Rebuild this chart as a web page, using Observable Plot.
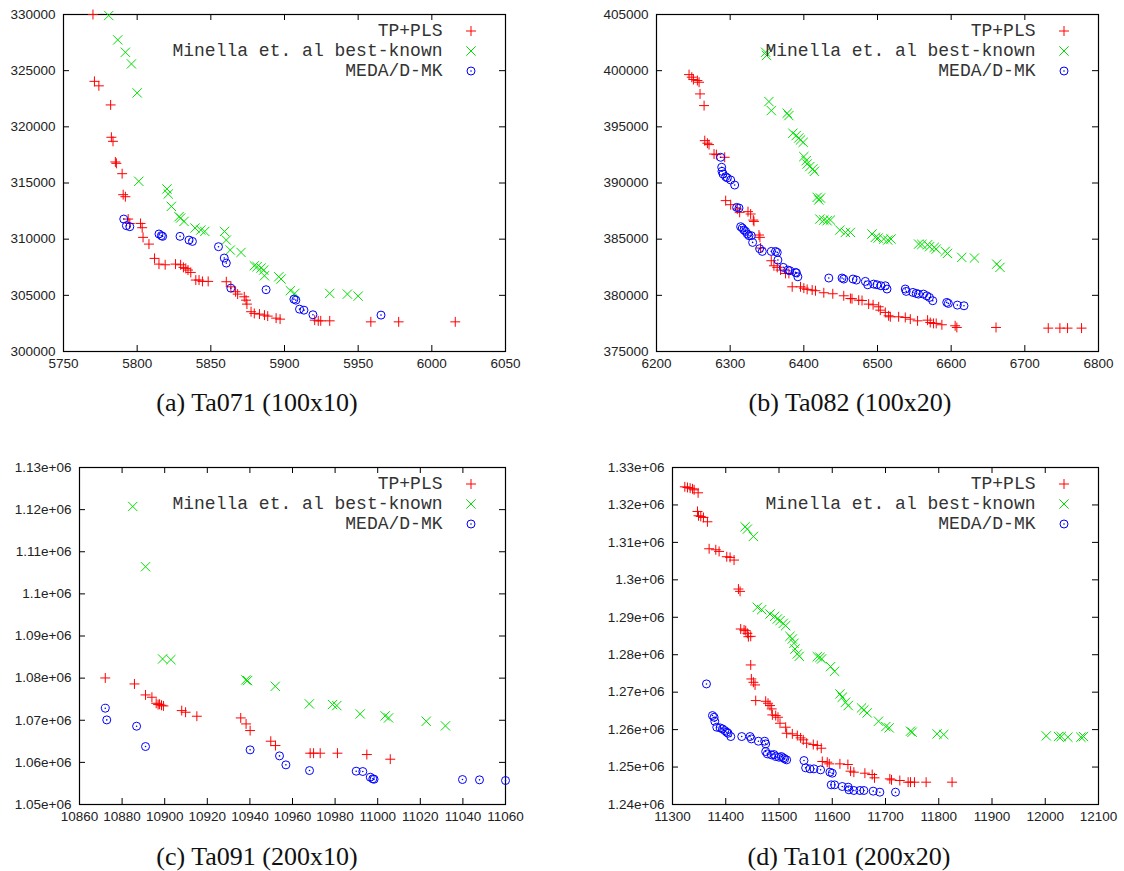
<!DOCTYPE html>
<html>
<head>
<meta charset="utf-8">
<script src="https://cdn.jsdelivr.net/npm/d3@7"></script>
<script src="https://cdn.jsdelivr.net/npm/@observablehq/plot@0.6"></script>
<style>
  html, body { margin: 0; padding: 0; background: #fff; }
  #fig { position: relative; width: 1124px; height: 871px; background: #fff; overflow: hidden; }
  .panel { position: absolute; }
  .caption { position: absolute; width: 400px; text-align: center; font-family: "Liberation Serif", "Times New Roman", serif; font-size: 26px; line-height: 30px; color: #111; }
</style>
</head>
<body>
<div id="fig"></div>
<script>
// ---------- series names ----------
const seriesNames = ["TP+PLS", "Minella et. al best-known", "MEDA/D-MK"];
const captions = ["(a) Ta071 (100x10)", "(b) Ta082 (100x20)", "(c) Ta091 (200x10)", "(d) Ta101 (200x20)"];

// ---------- (a) Ta071 ----------
const ta071_xTicks = [5750, 5800, 5850, 5900, 5950, 6000, 6050];
const ta071_yTicks = [300000, 305000, 310000, 315000, 320000, 325000, 330000];
const ta071_tpPls = [[5770,330000],[5771,324050],[5774,323650],[5782,321950],[5782.5,319070],[5783.6,318710],[5785.2,316870],[5785.9,316750],[5789.8,315830],[5790.5,313960],[5792,313780],[5793.9,311790],[5795,311400],[5802.3,311400],[5803.4,311020],[5804,310160],[5808,309560],[5811.8,308290],[5814.8,307780],[5819,307720],[5826,307780],[5829.5,307720],[5831.4,307490],[5833,307400],[5834.5,307250],[5836.4,307040],[5839.8,306360],[5842,306360],[5844.3,306240],[5848.2,306240],[5860.5,306210],[5863.6,305760],[5866.8,305320],[5868.2,305110],[5872.7,304870],[5873.9,304570],[5874.5,304220],[5877.3,303540],[5879.5,303390],[5883,303330],[5886.4,303240],[5888.6,303150],[5894.3,302970],[5897,302880],[5920.5,302790],[5922.9,302730],[5924.6,302730],[5930.7,302730],[5958.6,302640],[5977.5,302640],[6015.9,302640]];
const ta071_minella = [[5780.7,329910],[5786.8,327740],[5792,326640],[5796.1,325600],[5800,323020],[5801.1,315150],[5820.2,314470],[5821.1,314020],[5823.2,312920],[5828.4,312000],[5829.5,311880],[5831.8,311580],[5839.3,310990],[5843.2,310810],[5845.9,310690],[5859.3,310690],[5860.5,309920],[5863.2,309030],[5870.5,308820],[5879.5,307630],[5881.4,307550],[5884.1,307430],[5885.9,307250],[5886.4,306740],[5896.1,306650],[5897.7,306450],[5904,305410],[5907,305170],[5930.7,305170],[5942.7,305110],[5950,304930]];
const ta071_meda = [[5790.9,311790],[5792.7,311200],[5795,311110],[5814.8,310460],[5816.4,310310],[5817.3,310250],[5829.1,310250],[5835.2,309920],[5837.5,309800],[5855.2,309330],[5859.1,308320],[5860.5,307870],[5863.6,305640],[5887.5,305500],[5906.4,304660],[5907.7,304570],[5910.2,303770],[5913.2,303680],[5919.3,303270],[5965.5,303240]];

// ---------- (b) Ta082 ----------
const ta082_xTicks = [6200, 6300, 6400, 6500, 6600, 6700, 6800];
const ta082_yTicks = [375000, 380000, 385000, 390000, 395000, 400000, 405000];
const ta082_tpPls = [[6244.2,399650],[6247.9,399420],[6250.1,399210],[6255.5,399120],[6257.8,398970],[6259.1,397930],[6264.6,396890],[6265.5,393770],[6269.1,393540],[6271.3,393420],[6278.1,392580],[6281.3,392530],[6292.6,392290],[6293.9,388430],[6300.7,388070],[6309.7,387680],[6312.9,387390],[6324.2,387450],[6327.8,387240],[6331.4,386700],[6332.3,386580],[6339.1,385370],[6340.4,385160],[6341.3,384210],[6355.8,383080],[6359.4,382630],[6363.9,382490],[6368.4,382250],[6375.2,381950],[6379.7,381950],[6384.2,380760],[6395.5,380760],[6400,380640],[6404.5,380530],[6411.3,380470],[6415.8,380410],[6427.1,380230],[6439.3,380140],[6454.2,379960],[6463.2,379720],[6465.4,379700],[6474.5,379570],[6479,379540],[6488,379220],[6494,379160],[6501.6,378980],[6503.8,378680],[6510.6,378480],[6515.1,378180],[6517.4,378090],[6528.7,378090],[6537.7,378030],[6544.5,377880],[6554.4,377730],[6568,377790],[6571.6,377580],[6576.1,377500],[6579.7,377500],[6587.4,377380],[6605.4,377290],[6607.7,377140],[6660.9,377140],[6731.8,377080],[6747.6,377080],[6758,377080],[6777,377080]];
const ta082_minella = [[6348.1,401640],[6349.4,401350],[6352.6,397250],[6355.8,396450],[6377.4,396210],[6379.7,396000],[6385.1,394430],[6389.6,394220],[6393.2,394010],[6395.5,393830],[6399.1,393620],[6400,392350],[6403.2,391990],[6404.5,391690],[6408.1,391460],[6412.2,391250],[6414.4,391040],[6418.1,388720],[6420.3,388490],[6422.6,388660],[6421.7,386790],[6427.1,386700],[6431.6,386640],[6436.1,386700],[6448.8,385810],[6456.4,385600],[6463.2,385600],[6492.6,385460],[6497.1,385160],[6500.8,385100],[6508.4,385010],[6513.9,384920],[6518.3,385010],[6555.8,384560],[6560.3,384530],[6568,384500],[6570.7,384330],[6577,384270],[6579.7,384120],[6591.9,383910],[6595,383730],[6614.4,383380],[6631.6,383320],[6661.8,382780],[6666.3,382490]];
const ta082_meda = [[6287.1,392290],[6288.5,391400],[6288.9,391040],[6290.3,390800],[6293.9,390560],[6296.2,390450],[6300.7,390270],[6306.1,389820],[6308.8,387830],[6312,387770],[6314.2,386110],[6316.5,385990],[6318.7,385810],[6321,385690],[6323.3,385460],[6325.5,385310],[6328.7,385310],[6330.5,384710],[6340,384150],[6343.6,383910],[6355.8,383910],[6361.6,383910],[6363.9,383820],[6364.8,383140],[6372,382490],[6378.3,382250],[6381,382190],[6388.7,382040],[6390,382000],[6391.9,381650],[6433.9,381540],[6451.9,381540],[6454.2,381450],[6466.8,381450],[6471.3,381360],[6483.5,381240],[6486.7,380940],[6494.8,381000],[6499.3,380940],[6504.7,380850],[6510.6,380850],[6512.9,380560],[6537.7,380560],[6539,380350],[6548,380260],[6552.5,380170],[6555.6,380110],[6562.4,380110],[6566.9,379960],[6570.5,379810],[6575,379520],[6594,379370],[6596.2,379280],[6608.4,379130],[6617.4,379070]];

// ---------- (c) Ta091 ----------
const ta091_xTicks = [10860, 10880, 10900, 10920, 10940, 10960, 10980, 11000, 11020, 11040, 11060];
const ta091_yTicks = [1050000, 1060000, 1070000, 1080000, 1090000, 1100000, 1110000, 1120000, 1130000];
const ta091_tpPls = [[10872.1,1080040],[10885.8,1078620],[10891,1076010],[10894,1075460],[10896,1074030],[10896.9,1073720],[10897.6,1073800],[10898.5,1073560],[10899.4,1073400],[10908,1072290],[10909.8,1071900],[10915.1,1070950],[10935.7,1070550],[10938.2,1069130],[10940.1,1067550],[10949.8,1065020],[10952,1063990],[10968.3,1062180],[10969.9,1062180],[10973,1062180],[10981.1,1062180],[10994.9,1061860],[11005.9,1060750]];
const ta091_minella = [[10885,1120750],[10891,1106440],[10899,1084550],[10902.9,1084390],[10938.1,1079570],[10938.9,1079410],[10951.9,1078060],[10967.9,1073880],[10978.8,1073720],[10980.8,1073480],[10991.8,1071500],[11003.5,1071030],[11005.1,1070550],[11022.8,1069760],[11031.8,1068660]];
const ta091_meda = [[10872.1,1072850],[10872.8,1070080],[10886.8,1068580],[10891,1063760],[10940.1,1062970],[10953.9,1061540],[10956.9,1059410],[10968,1058060],[10989.9,1057910],[10993,1057830],[10996.5,1056480],[10997.7,1056090],[10998.3,1056000],[11039.8,1055930],[11047.8,1055850],[11060,1055690]];

// ---------- (d) Ta101 ----------
const ta101_xTicks = [11300, 11400, 11500, 11600, 11700, 11800, 11900, 12000, 12100];
const ta101_yTicks = [1240000, 1250000, 1260000, 1270000, 1280000, 1290000, 1300000, 1310000, 1320000, 1330000];
const ta101_tpPls = [[11323.1,1324840],[11328.1,1324660],[11333.1,1324490],[11337.5,1324310],[11340.6,1324040],[11348.1,1323240],[11346.9,1318260],[11348.8,1317110],[11353.1,1316930],[11358.1,1316660],[11365.6,1315500],[11368.8,1308300],[11381.3,1308030],[11387.5,1307590],[11401.9,1306170],[11408.1,1305990],[11415.6,1305280],[11423.8,1297540],[11426.9,1296920],[11428.1,1286870],[11434.4,1286600],[11437.5,1286420],[11440.6,1285710],[11442.5,1284820],[11446.9,1284910],[11446.9,1277270],[11448.1,1273530],[11451.9,1272640],[11455,1271930],[11456.3,1267750],[11475,1267570],[11479.4,1267040],[11483.1,1266420],[11486.3,1265530],[11487.5,1263930],[11493.8,1263750],[11498.1,1263300],[11501.9,1261700],[11512.5,1260640],[11514.4,1259030],[11525,1258860],[11534.4,1258410],[11540.6,1257790],[11545.6,1257260],[11551.9,1256370],[11564.4,1256010],[11571.9,1255740],[11579.4,1255030],[11581.3,1251480],[11590.6,1251300],[11594.4,1250850],[11614.4,1250850],[11629.4,1250680],[11634.4,1248900],[11640.6,1248630],[11661.3,1248360],[11675,1248010],[11679.4,1247120],[11708.1,1246850],[11711.3,1246580],[11726.9,1246410],[11742.5,1245960],[11746.9,1245960],[11754.4,1245960],[11776.3,1245960],[11825,1245960]];
const ta101_minella = [[11436.3,1314170],[11440.6,1313550],[11451.9,1311590],[11459.4,1292650],[11467.5,1292030],[11483.1,1290870],[11491.9,1290250],[11496.9,1289540],[11501.9,1289090],[11508.1,1288380],[11512.5,1287760],[11520.6,1284910],[11525,1284200],[11528.1,1283050],[11530,1281530],[11534.4,1280200],[11538.1,1279580],[11571.9,1279490],[11576.9,1279310],[11580,1278870],[11596.9,1276820],[11604.4,1275580],[11614.4,1269530],[11618.8,1268640],[11625,1267310],[11630,1266420],[11655,1265790],[11659.4,1265260],[11665.6,1264460],[11686.9,1262240],[11700.6,1260810],[11706.9,1260460],[11746.9,1259570],[11750,1259300],[11796.9,1258860],[11809.4,1258680],[12001.9,1258320],[12025,1258150],[12030,1258150],[12042.5,1257970],[12066.9,1257970],[12071.9,1258150]];
const ta101_meda = [[11363.8,1272200],[11375,1263750],[11378.1,1263300],[11379.4,1262240],[11383.1,1260640],[11389.4,1260460],[11393.8,1260190],[11398.1,1259750],[11401.9,1259300],[11404.4,1259030],[11409.4,1258150],[11430,1258150],[11445.6,1258150],[11448.1,1257520],[11461.3,1256900],[11473.1,1256900],[11475,1256190],[11475,1254140],[11478.1,1253520],[11485.6,1253250],[11490.6,1253340],[11493.8,1252810],[11500,1252630],[11504.4,1252810],[11508.1,1252450],[11510.6,1252190],[11514.4,1251920],[11546.9,1251740],[11550,1249790],[11558.1,1249520],[11565.6,1249520],[11578.1,1249250],[11595.6,1248630],[11600,1248360],[11598.1,1245250],[11604.4,1245250],[11618.8,1244810],[11630,1244630],[11631.3,1243920],[11640.6,1243740],[11651.9,1243740],[11659.4,1243740],[11676.9,1243560],[11689.4,1243290],[11718.8,1243290]];

// ---------- styling ----------
const RED = "#ff0000", GREEN = "#00e000", BLUE = "#0000ff";
const AXIS_FONT = "'Liberation Sans', Arial, Helvetica, sans-serif";
const plainFmt = d => String(d);
const sciFmt = d => (+(d / 1e6).toFixed(2)) + "e+06";

function panel(cfg) {
  const {tp, mk, meda, xTicks, yTicks, yFormat, width, height, ml, mr, mt, mb} = cfg;
  const W = width - ml - mr, H = height - mt - mb;
  const tick = 6;
  const legendText = {frameAnchor: "top-right", dx: -63, textAnchor: "end", lineAnchor: "middle",
    fontFamily: "'Liberation Mono', 'Courier New', monospace", fontSize: 18, fill: "#333"};
  const legendDot = {frameAnchor: "top-right", dx: -34.5, strokeWidth: 1};
  return Plot.plot({
    width, height,
    marginLeft: ml, marginRight: mr, marginTop: mt, marginBottom: mb,
    style: {fontFamily: AXIS_FONT, fontSize: "13.5px", color: "#222", background: "transparent", overflow: "visible"},
    x: {domain: [xTicks[0], xTicks[xTicks.length - 1]]},
    y: {domain: [yTicks[0], yTicks[yTicks.length - 1]]},
    marks: [
      Plot.axisX(xTicks, {tickSize: 0, tickPadding: 7, tickFormat: plainFmt, label: null, fontSize: 13.5, fontFamily: AXIS_FONT}),
      Plot.axisY(yTicks, {tickSize: 0, tickPadding: 8, tickFormat: yFormat, label: null, fontSize: 13.5, fontFamily: AXIS_FONT}),
      Plot.tickX(xTicks, {x: d => d, insetTop: H - tick, stroke: "#000"}),
      Plot.tickX(xTicks, {x: d => d, insetBottom: H - tick, stroke: "#000"}),
      Plot.tickY(yTicks, {y: d => d, insetRight: W - tick, stroke: "#000"}),
      Plot.tickY(yTicks, {y: d => d, insetLeft: W - tick, stroke: "#000"}),
      Plot.frame({stroke: "#000", strokeWidth: 1.2}),
      Plot.dot(tp, {x: d => d[0], y: d => d[1], symbol: "plus", r: 3.3, stroke: RED, strokeWidth: 1, fill: "none"}),
      Plot.dot(mk, {x: d => d[0], y: d => d[1], symbol: "times", r: 4.3, stroke: GREEN, strokeWidth: 1, fill: "none"}),
      Plot.dot(meda, {x: d => d[0], y: d => d[1], symbol: "circle", r: 4, stroke: BLUE, strokeWidth: 1, fill: "none"}),
      Plot.dot(meda, {x: d => d[0], y: d => d[1], r: 0.8, fill: BLUE, stroke: "none"}),
      // legend
      Plot.text([seriesNames[0]], {...legendText, dy: 16}),
      Plot.text([seriesNames[1]], {...legendText, dy: 36}),
      Plot.text([seriesNames[2]], {...legendText, dy: 56}),
      Plot.dot([seriesNames[0]], {...legendDot, dy: 16.5, symbol: "plus", r: 3.3, stroke: RED, fill: "none"}),
      Plot.dot([seriesNames[1]], {...legendDot, dy: 36.5, symbol: "times", r: 4.3, stroke: GREEN, fill: "none"}),
      Plot.dot([seriesNames[2]], {...legendDot, dy: 56.5, symbol: "circle", r: 4, stroke: BLUE, fill: "none"}),
      Plot.dot([seriesNames[2]], {...legendDot, dy: 56.5, r: 0.8, fill: BLUE, stroke: "none"})
    ]
  });
}

const fig = document.getElementById("fig");
function place(node, left, top) {
  const wrap = document.createElement("div");
  wrap.className = "panel";
  wrap.style.left = left + "px";
  wrap.style.top = top + "px";
  wrap.appendChild(node);
  fig.appendChild(wrap);
}
function caption(text, cx, cy) {
  const d = document.createElement("div");
  d.className = "caption";
  d.textContent = text;
  d.style.left = (cx - 200) + "px";
  d.style.top = (cy - 15) + "px";
  fig.appendChild(d);
}

place(panel({tp: ta071_tpPls, mk: ta071_minella, meda: ta071_meda, xTicks: ta071_xTicks, yTicks: ta071_yTicks, yFormat: plainFmt,
  width: 540, height: 380, ml: 63, mr: 35, mt: 14, mb: 29}), 0, 0);
place(panel({tp: ta082_tpPls, mk: ta082_minella, meda: ta082_meda, xTicks: ta082_xTicks, yTicks: ta082_yTicks, yFormat: plainFmt,
  width: 562, height: 380, ml: 94, mr: 26, mt: 14, mb: 29}), 562, 0);
place(panel({tp: ta091_tpPls, mk: ta091_minella, meda: ta091_meda, xTicks: ta091_xTicks, yTicks: ta091_yTicks, yFormat: sciFmt,
  width: 540, height: 381, ml: 79, mr: 35, mt: 15, mb: 29}), 0, 452);
place(panel({tp: ta101_tpPls, mk: ta101_minella, meda: ta101_meda, xTicks: ta101_xTicks, yTicks: ta101_yTicks, yFormat: sciFmt,
  width: 562, height: 381, ml: 110, mr: 26, mt: 15, mb: 29}), 562, 452);

caption(captions[0], 257, 403);
caption(captions[1], 850, 403);
caption(captions[2], 257, 857);
caption(captions[3], 849, 857);
</script>
</body>
</html>
